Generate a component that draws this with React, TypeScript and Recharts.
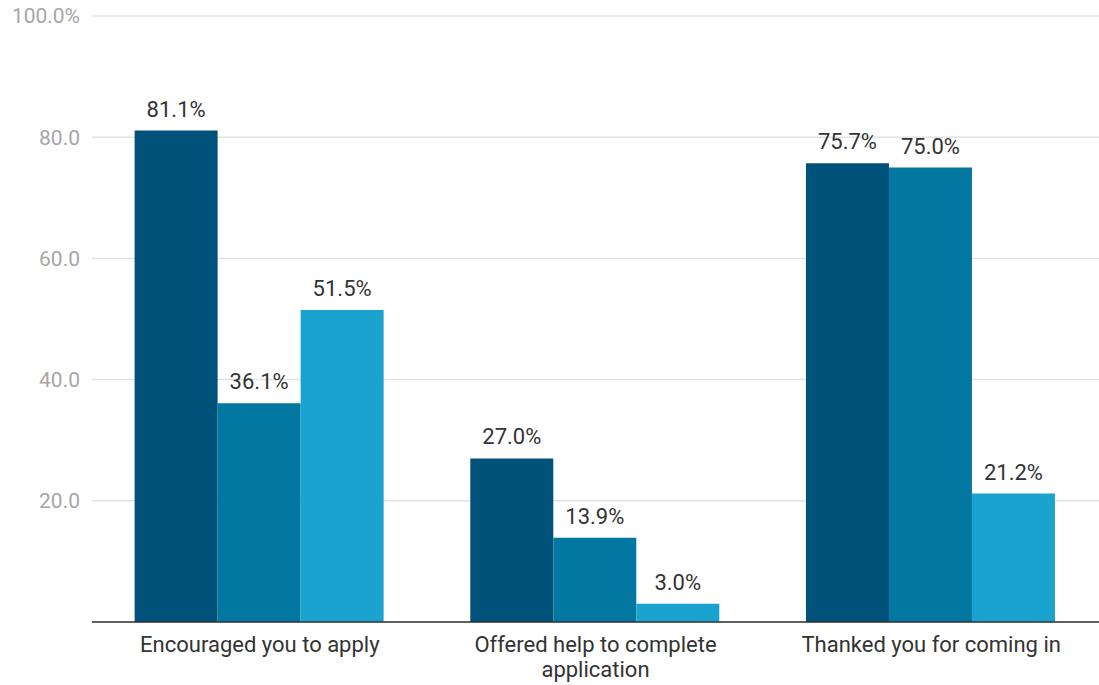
import React from "react";
import {
  BarChart,
  Bar,
  XAxis,
  YAxis,
  CartesianGrid,
  LabelList,
} from "recharts";

const categories = [
  "Encouraged you to apply",
  "Offered help to complete application",
  "Thanked you for coming in",
];
const seriesA = [81.1, 27.0, 75.7];
const seriesB = [36.1, 13.9, 75.0];
const seriesC = [51.5, 3.0, 21.2];
const yTicks = [20, 40, 60, 80, 100];

const COLORS = ["#01527a", "#0277a1", "#1ba3cf"];

const data = categories.map((name, i) => ({
  name,
  a: seriesA[i],
  b: seriesB[i],
  c: seriesC[i],
}));

// greedy word wrap by character count
function wrap(label: string, maxChars = 25) {
  const lines: string[] = [];
  let cur = "";
  label.split(" ").forEach((w) => {
    const next = cur ? cur + " " + w : w;
    if (next.length > maxChars && cur) {
      lines.push(cur);
      cur = w;
    } else {
      cur = next;
    }
  });
  if (cur) lines.push(cur);
  return lines;
}

function CategoryTick(props: any) {
  const { x, y, payload } = props;
  return (
    <text
      x={x}
      y={y}
      textAnchor="middle"
      fill="#333333"
      fontSize={22}
      fontFamily="Roboto"
    >
      {wrap(payload.value).map((line, i) => (
        <tspan key={i} x={x} dy={i === 0 ? 30 : 25}>
          {line}
        </tspan>
      ))}
    </text>
  );
}

function YTick(props: any) {
  const { x, y, payload } = props;
  const v = payload.value;
  return (
    <text
      x={x}
      y={y}
      dy="0.355em"
      textAnchor="end"
      fill="#a6a6a6"
      fontSize={21}
      fontFamily="Roboto"
    >
      {v === 100 ? "100.0%" : Number(v).toFixed(1)}
    </text>
  );
}

const pct = (v: any) => `${Number(v).toFixed(1)}%`;

export default function App() {
  return (
    <div style={{ position: "absolute", left: 0, top: 0 }}>
      <BarChart
        width={1099}
        height={685}
        data={data}
        margin={{ top: 16, right: 0, left: 0, bottom: 0 }}
        barCategoryGap="12.7%"
        barGap={0}
      >
        <CartesianGrid vertical={false} stroke="#e2e2e2" strokeWidth={1.5} />
        <YAxis
          domain={[0, 100]}
          ticks={yTicks}
          width={92}
          axisLine={false}
          tickLine={false}
          tickSize={0}
          tickMargin={12}
          tick={<YTick />}
        />
        <XAxis
          dataKey="name"
          height={63}
          axisLine={{ stroke: "#333333", strokeWidth: 1.5 }}
          tickLine={false}
          tickSize={0}
          tickMargin={0}
          interval={0}
          tick={<CategoryTick />}
        />
        {[
          ["a", COLORS[0]],
          ["b", COLORS[1]],
          ["c", COLORS[2]],
        ].map(([key, color]) => (
          <Bar key={key} dataKey={key} fill={color} isAnimationActive={false}>
            <LabelList
              dataKey={key}
              position="top"
              offset={14}
              formatter={pct}
              fill="#333333"
              fontSize={22}
              fontFamily="Roboto"
            />
          </Bar>
        ))}
      </BarChart>
    </div>
  );
}
